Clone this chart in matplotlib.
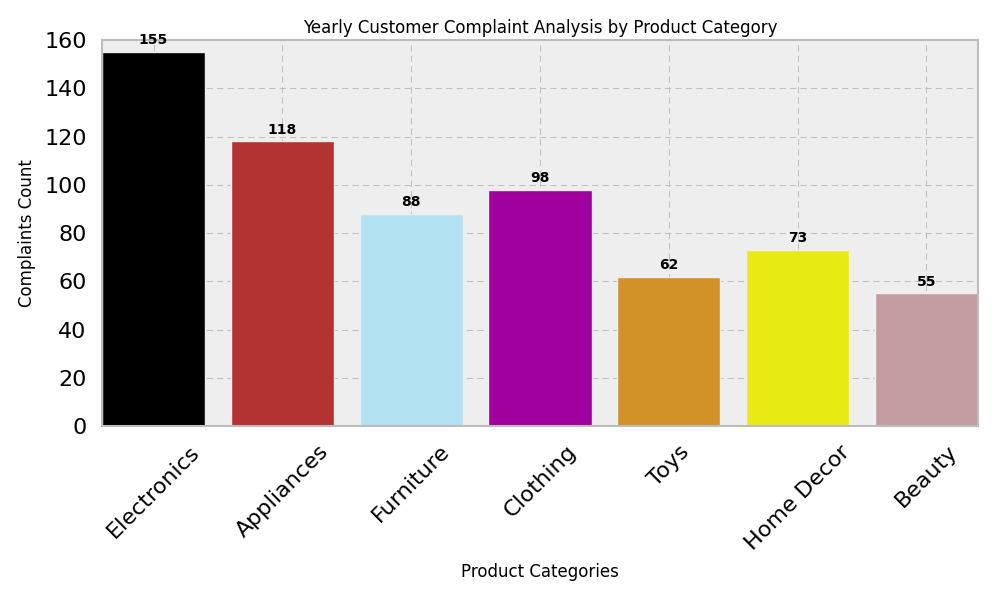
import matplotlib
matplotlib.use("Agg")
import matplotlib.pyplot as plt

# Data
categories = ['Electronics', 'Appliances', 'Furniture', 'Clothing', 'Toys', 'Home Decor', 'Beauty']
complaints = [155, 118, 88, 98, 62, 73, 55]
colors = ['#000000', '#B33333', '#B2E2F2', '#A0009E', '#D39227', '#E8EA13', '#C39CA1']

plt.style.use('bmh')
fig, ax = plt.subplots(figsize=(10, 6), dpi=100)
ax.set_axisbelow(True)

x = range(len(categories))
bars = ax.bar(x, complaints, color=colors, width=0.8, edgecolor='#eeeeee', linewidth=1)

# Value labels on top of the bars
for xi, v in zip(x, complaints):
    ax.text(xi, v + 2, str(v), ha='center', va='bottom', fontsize=10, fontweight='bold')

ax.set_xlim(-0.4, len(categories) - 0.6)
ax.set_ylim(0, 160)
ax.set_xticks(list(x))
ax.set_xticklabels(categories, rotation=45, fontsize=16)
ax.tick_params(axis='y', labelsize=16, pad=11)
ax.tick_params(axis='x', pad=11)
ax.tick_params(length=0)

ax.set_title('Yearly Customer Complaint Analysis by Product Category', fontsize=12, pad=5)
ax.set_xlabel('Product Categories', fontsize=12, labelpad=7)
ax.set_ylabel('Complaints Count', fontsize=12, labelpad=6)
ax.grid(True, linestyle=(0, (6, 4)), color='#c0c0c0', linewidth=0.75)
for s in ax.spines.values():
    s.set_color('#bcbcbc')
    s.set_linewidth(1.5)

plt.subplots_adjust(left=0.102, right=0.978, top=0.933, bottom=0.29)
plt.savefig('out.png')
